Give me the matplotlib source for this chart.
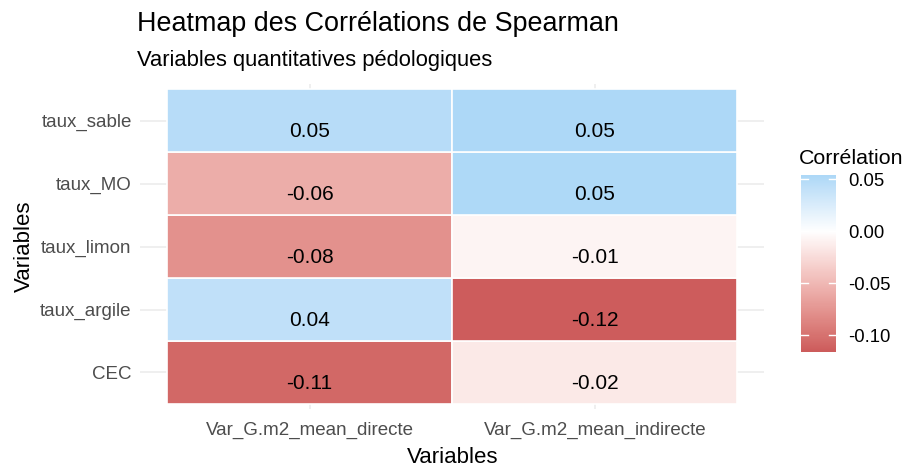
import numpy as np
from matplotlib import pyplot as plt
from matplotlib.colors import ListedColormap, TwoSlopeNorm, to_rgb

plt.rcParams['font.family'] = ['Liberation Sans', 'DejaVu Sans']

# Spearman correlations
variables = ["CEC", "taux_argile", "taux_limon", "taux_MO", "taux_sable"]
targets = ["Var_G.m2_mean_directe", "Var_G.m2_mean_indirecte"]
corr_directe = [-0.107, 0.042, -0.078, -0.058, 0.048]
corr_indirecte = [-0.016, -0.116, -0.008, 0.053, 0.054]

corr = np.array([corr_directe, corr_indirecte]).T  # rows = variables, cols = targets
vmin, vmax = corr.min(), corr.max()

# colour ramp interpolated in CIELAB, like ggplot's gradient2
M = np.array([[0.4124, 0.3576, 0.1805], [0.2126, 0.7152, 0.0722], [0.0193, 0.1192, 0.9505]])
WHITE = M.sum(1)

def to_lab(c):
    c = np.array(to_rgb(c))
    lin = np.where(c <= 0.04045, c / 12.92, ((c + 0.055) / 1.055) ** 2.4)
    xyz = M @ lin / WHITE
    f = np.where(xyz > 0.008856, np.cbrt(xyz), 7.787 * xyz + 16 / 116)
    return np.array([116 * f[1] - 16, 500 * (f[0] - f[1]), 200 * (f[1] - f[2])])

def from_lab(lab):
    fy = (lab[0] + 16) / 116
    f = np.array([fy + lab[1] / 500, fy, fy - lab[2] / 200])
    xyz = np.where(f ** 3 > 0.008856, f ** 3, (f - 16 / 116) / 7.787) * WHITE
    lin = np.linalg.solve(M, xyz)
    c = np.where(lin <= 0.0031308, 12.92 * lin, 1.055 * np.clip(lin, 0, None) ** (1 / 2.4) - 0.055)
    return np.clip(c, 0, 1)

low, mid, high = to_lab("#CD5C5C"), to_lab("#FFFFFF"), to_lab("#ADD8F7")
ramp = []
for t in np.linspace(0, 1, 256):
    if t < 0.5:
        ramp.append(from_lab(low + (mid - low) * t / 0.5))
    else:
        ramp.append(from_lab(mid + (high - mid) * (t - 0.5) / 0.5))
cmap = ListedColormap(ramp)
norm = TwoSlopeNorm(vmin=vmin, vcenter=0, vmax=vmax)

fig = plt.figure(figsize=(9.05, 4.68), dpi=100)
ax = fig.add_axes([0.1547, 0.126, 0.69, 0.6945])

for i, v in enumerate(variables):
    for j, t in enumerate(targets):
        val = corr[i, j]
        ax.add_patch(plt.Rectangle((j + 0.5, i + 0.5), 1, 1, facecolor=cmap(norm(val)),
                                   edgecolor="white", linewidth=1.2, zorder=2))
        ax.text(j + 1, i + 0.82, f"{val:.2f}", ha="center", va="center",
                fontsize=15, color="black", zorder=3)

ax.set_xlim(0.405, 2.595)
ax.set_ylim(0.42, 5.58)
ax.set_xticks([1, 2])
ax.set_xticklabels(targets)
ax.set_yticks(range(1, 6))
ax.set_yticklabels(variables)
ax.tick_params(axis="y", length=0, labelsize=13.5, labelcolor="#4D4D4D", pad=6)
ax.tick_params(axis="x", length=0, labelsize=13.5, labelcolor="#4D4D4D", pad=9)
ax.grid(True, color="#EBEBEB", linewidth=1.1, zorder=0)
ax.set_axisbelow(True)
for s in ax.spines.values():
    s.set_visible(False)

ax.set_xlabel("Variables", fontsize=16, labelpad=6)
ax.set_ylabel("Variables", fontsize=16, labelpad=4)

fig.text(137 / 905, 1 - 31 / 468, "Heatmap des Corrélations de Spearman", fontsize=19.4,
         ha="left", va="baseline")
fig.text(137 / 905, 1 - 66 / 468, "Variables quantitatives pédologiques", fontsize=15.8,
         ha="left", va="baseline")

# colour bar
cax = fig.add_axes([801 / 905, 1 - 352 / 468, 35 / 905, 177 / 468])
grad = np.linspace(vmin, vmax, 200).reshape(-1, 1)
cax.imshow(grad, aspect="auto", cmap=cmap, norm=norm, origin="lower",
           extent=[0, 1, vmin, vmax])
cbar_ticks = [-0.10, -0.05, 0.00, 0.05]
for tk in cbar_ticks:
    cax.plot([0, 0.2], [tk, tk], color="white", linewidth=1)
    cax.plot([0.8, 1], [tk, tk], color="white", linewidth=1)
cax.set_xlim(0, 1)
cax.set_ylim(vmin, vmax)
cax.set_xticks([])
cax.yaxis.tick_right()
cax.set_yticks(cbar_ticks)
cax.set_yticklabels([f"{t:.2f}" for t in cbar_ticks])
cax.tick_params(length=0, labelsize=13.3, labelcolor="black", pad=9)
for s in cax.spines.values():
    s.set_visible(False)
fig.text(799 / 905, 1 - 164 / 468, "Corrélation", fontsize=15.4, ha="left", va="baseline")

plt.savefig("out.png", dpi=100)
